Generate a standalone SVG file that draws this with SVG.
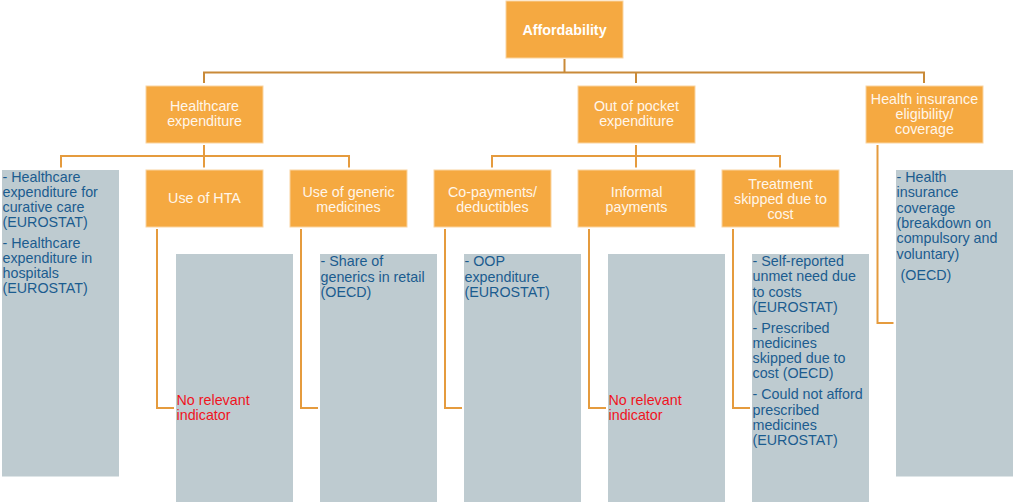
<svg xmlns="http://www.w3.org/2000/svg" width="1013" height="502" viewBox="0 0 1013 502">
<style>
.box{fill:#F5A941;stroke:#FAD4A0;stroke-width:1}
.grey{fill:#BECBD0}
.lt{font-family:"Liberation Sans",Arial,sans-serif;font-size:14.3px;fill:#FFF6EA;text-anchor:middle}
.b{font-weight:bold;fill:#FFFFFF}
.gt{font-family:"Liberation Sans",Arial,sans-serif;font-size:14.3px;fill:#1B5C8F}
.red{font-family:"Liberation Sans",Arial,sans-serif;font-size:14.3px;fill:#F0141E}
.c1{fill:none;stroke:#C98A38;stroke-width:2}
.c2{fill:none;stroke:#E59B3E;stroke-width:2}
</style>
<rect width="1013" height="502" fill="#FFFFFF"/>
<g id="connectors">
<path class="c1" d="M564.5 59V72.5M204 72.5H924M204 71.5V83M636 71.5V83M924 71.5V83"/>
<path class="c2" d="M204 145V156M61 156H349M61 155V167.5M204 155V167.5M349 155V167.5"/>
<path class="c2" d="M636 145V156M492 156H780M492 155V167.5M636 155V167.5M780 155V167.5"/>
<path class="c2" d="M877.5 145V323H893.5"/>
<path class="c2" d="M157 229V408H174"/>
<path class="c2" d="M301 229V408H318"/>
<path class="c2" d="M445 229V408H462"/>
<path class="c2" d="M589 229V408H606"/>
<path class="c2" d="M733 229V408H750"/>
</g>
<g id="affordability">
<rect class="box" x="506" y="1" width="117" height="57"/>
<text class="lt b" x="564.5" y="34.5">Affordability</text>
</g>
<g id="healthcare-expenditure">
<rect class="box" x="146" y="86" width="117" height="57"/>
<text class="lt" x="204.5" y="111">Healthcare</text>
<text class="lt" x="204.5" y="126">expenditure</text>
</g>
<g id="out-of-pocket">
<rect class="box" x="578" y="86" width="117" height="57"/>
<text class="lt" x="636.5" y="111">Out of pocket</text>
<text class="lt" x="636.5" y="126">expenditure</text>
</g>
<g id="health-insurance">
<rect class="box" x="866" y="86" width="117" height="57"/>
<text class="lt" x="924.5" y="104">Health insurance</text>
<text class="lt" x="924.5" y="119">eligibility/</text>
<text class="lt" x="924.5" y="134">coverage</text>
</g>
<g id="he-indicators">
<rect class="grey" x="2" y="170" width="117" height="306.5"/>
<text class="gt" x="2.5" y="182">- Healthcare</text>
<text class="gt" x="2.5" y="197">expenditure for</text>
<text class="gt" x="2.5" y="212">curative care</text>
<text class="gt" x="2.5" y="227">(EUROSTAT)</text>
<text class="gt" x="2.5" y="248">- Healthcare</text>
<text class="gt" x="2.5" y="263">expenditure in</text>
<text class="gt" x="2.5" y="278">hospitals</text>
<text class="gt" x="2.5" y="293">(EUROSTAT)</text>
</g>
<g id="use-of-hta">
<rect class="box" x="146" y="170" width="117" height="57"/>
<text class="lt" x="204.5" y="203">Use of HTA</text>
</g>
<g id="hta-indicators">
<rect class="grey" x="176" y="254" width="117" height="248"/>
<text class="red" x="176.5" y="405">No relevant</text>
<text class="red" x="176.5" y="420">indicator</text>
</g>
<g id="use-of-generic">
<rect class="box" x="290" y="170" width="117" height="57"/>
<text class="lt" x="348.5" y="197">Use of generic</text>
<text class="lt" x="348.5" y="211.5">medicines</text>
</g>
<g id="generic-indicators">
<rect class="grey" x="320" y="254" width="117" height="248"/>
<text class="gt" x="320.5" y="266">- Share of</text>
<text class="gt" x="320.5" y="281.5">generics in retail</text>
<text class="gt" x="320.5" y="297">(OECD)</text>
</g>
<g id="co-payments">
<rect class="box" x="434" y="170" width="117" height="57"/>
<text class="lt" x="492.5" y="197">Co-payments/</text>
<text class="lt" x="492.5" y="211.5">deductibles</text>
</g>
<g id="copay-indicators">
<rect class="grey" x="464" y="254" width="117" height="248"/>
<text class="gt" x="464.5" y="266">- OOP</text>
<text class="gt" x="464.5" y="281.5">expenditure</text>
<text class="gt" x="464.5" y="297">(EUROSTAT)</text>
</g>
<g id="informal-payments">
<rect class="box" x="578" y="170" width="117" height="57"/>
<text class="lt" x="636.5" y="197">Informal</text>
<text class="lt" x="636.5" y="211.5">payments</text>
</g>
<g id="informal-indicators">
<rect class="grey" x="608" y="254" width="117" height="248"/>
<text class="red" x="608.5" y="405">No relevant</text>
<text class="red" x="608.5" y="420">indicator</text>
</g>
<g id="treatment-skipped">
<rect class="box" x="722" y="170" width="117" height="57"/>
<text class="lt" x="780.5" y="188.5">Treatment</text>
<text class="lt" x="780.5" y="203.5">skipped due to</text>
<text class="lt" x="780.5" y="218.5">cost</text>
</g>
<g id="treatment-indicators">
<rect class="grey" x="752" y="254" width="117" height="248"/>
<text class="gt" x="752.5" y="266">- Self-reported</text>
<text class="gt" x="752.5" y="281">unmet need due</text>
<text class="gt" x="752.5" y="296.5">to costs</text>
<text class="gt" x="752.5" y="312">(EUROSTAT)</text>
<text class="gt" x="752.5" y="333">- Prescribed</text>
<text class="gt" x="752.5" y="348">medicines</text>
<text class="gt" x="752.5" y="363">skipped due to</text>
<text class="gt" x="752.5" y="378">cost (OECD)</text>
<text class="gt" x="752.5" y="399">- Could not afford</text>
<text class="gt" x="752.5" y="414.5">prescribed</text>
<text class="gt" x="752.5" y="430">medicines</text>
<text class="gt" x="752.5" y="445">(EUROSTAT)</text>
</g>
<g id="insurance-indicators">
<rect class="grey" x="896" y="170" width="117" height="306.5"/>
<text class="gt" x="896.5" y="182">- Health</text>
<text class="gt" x="896.5" y="197">insurance</text>
<text class="gt" x="896.5" y="212.5">coverage</text>
<text class="gt" x="896.5" y="227.5">(breakdown on</text>
<text class="gt" x="896.5" y="243">compulsory and</text>
<text class="gt" x="896.5" y="258.5">voluntary)</text>
<text class="gt" x="900.5" y="279.5">(OECD)</text>
</g>
</svg>
